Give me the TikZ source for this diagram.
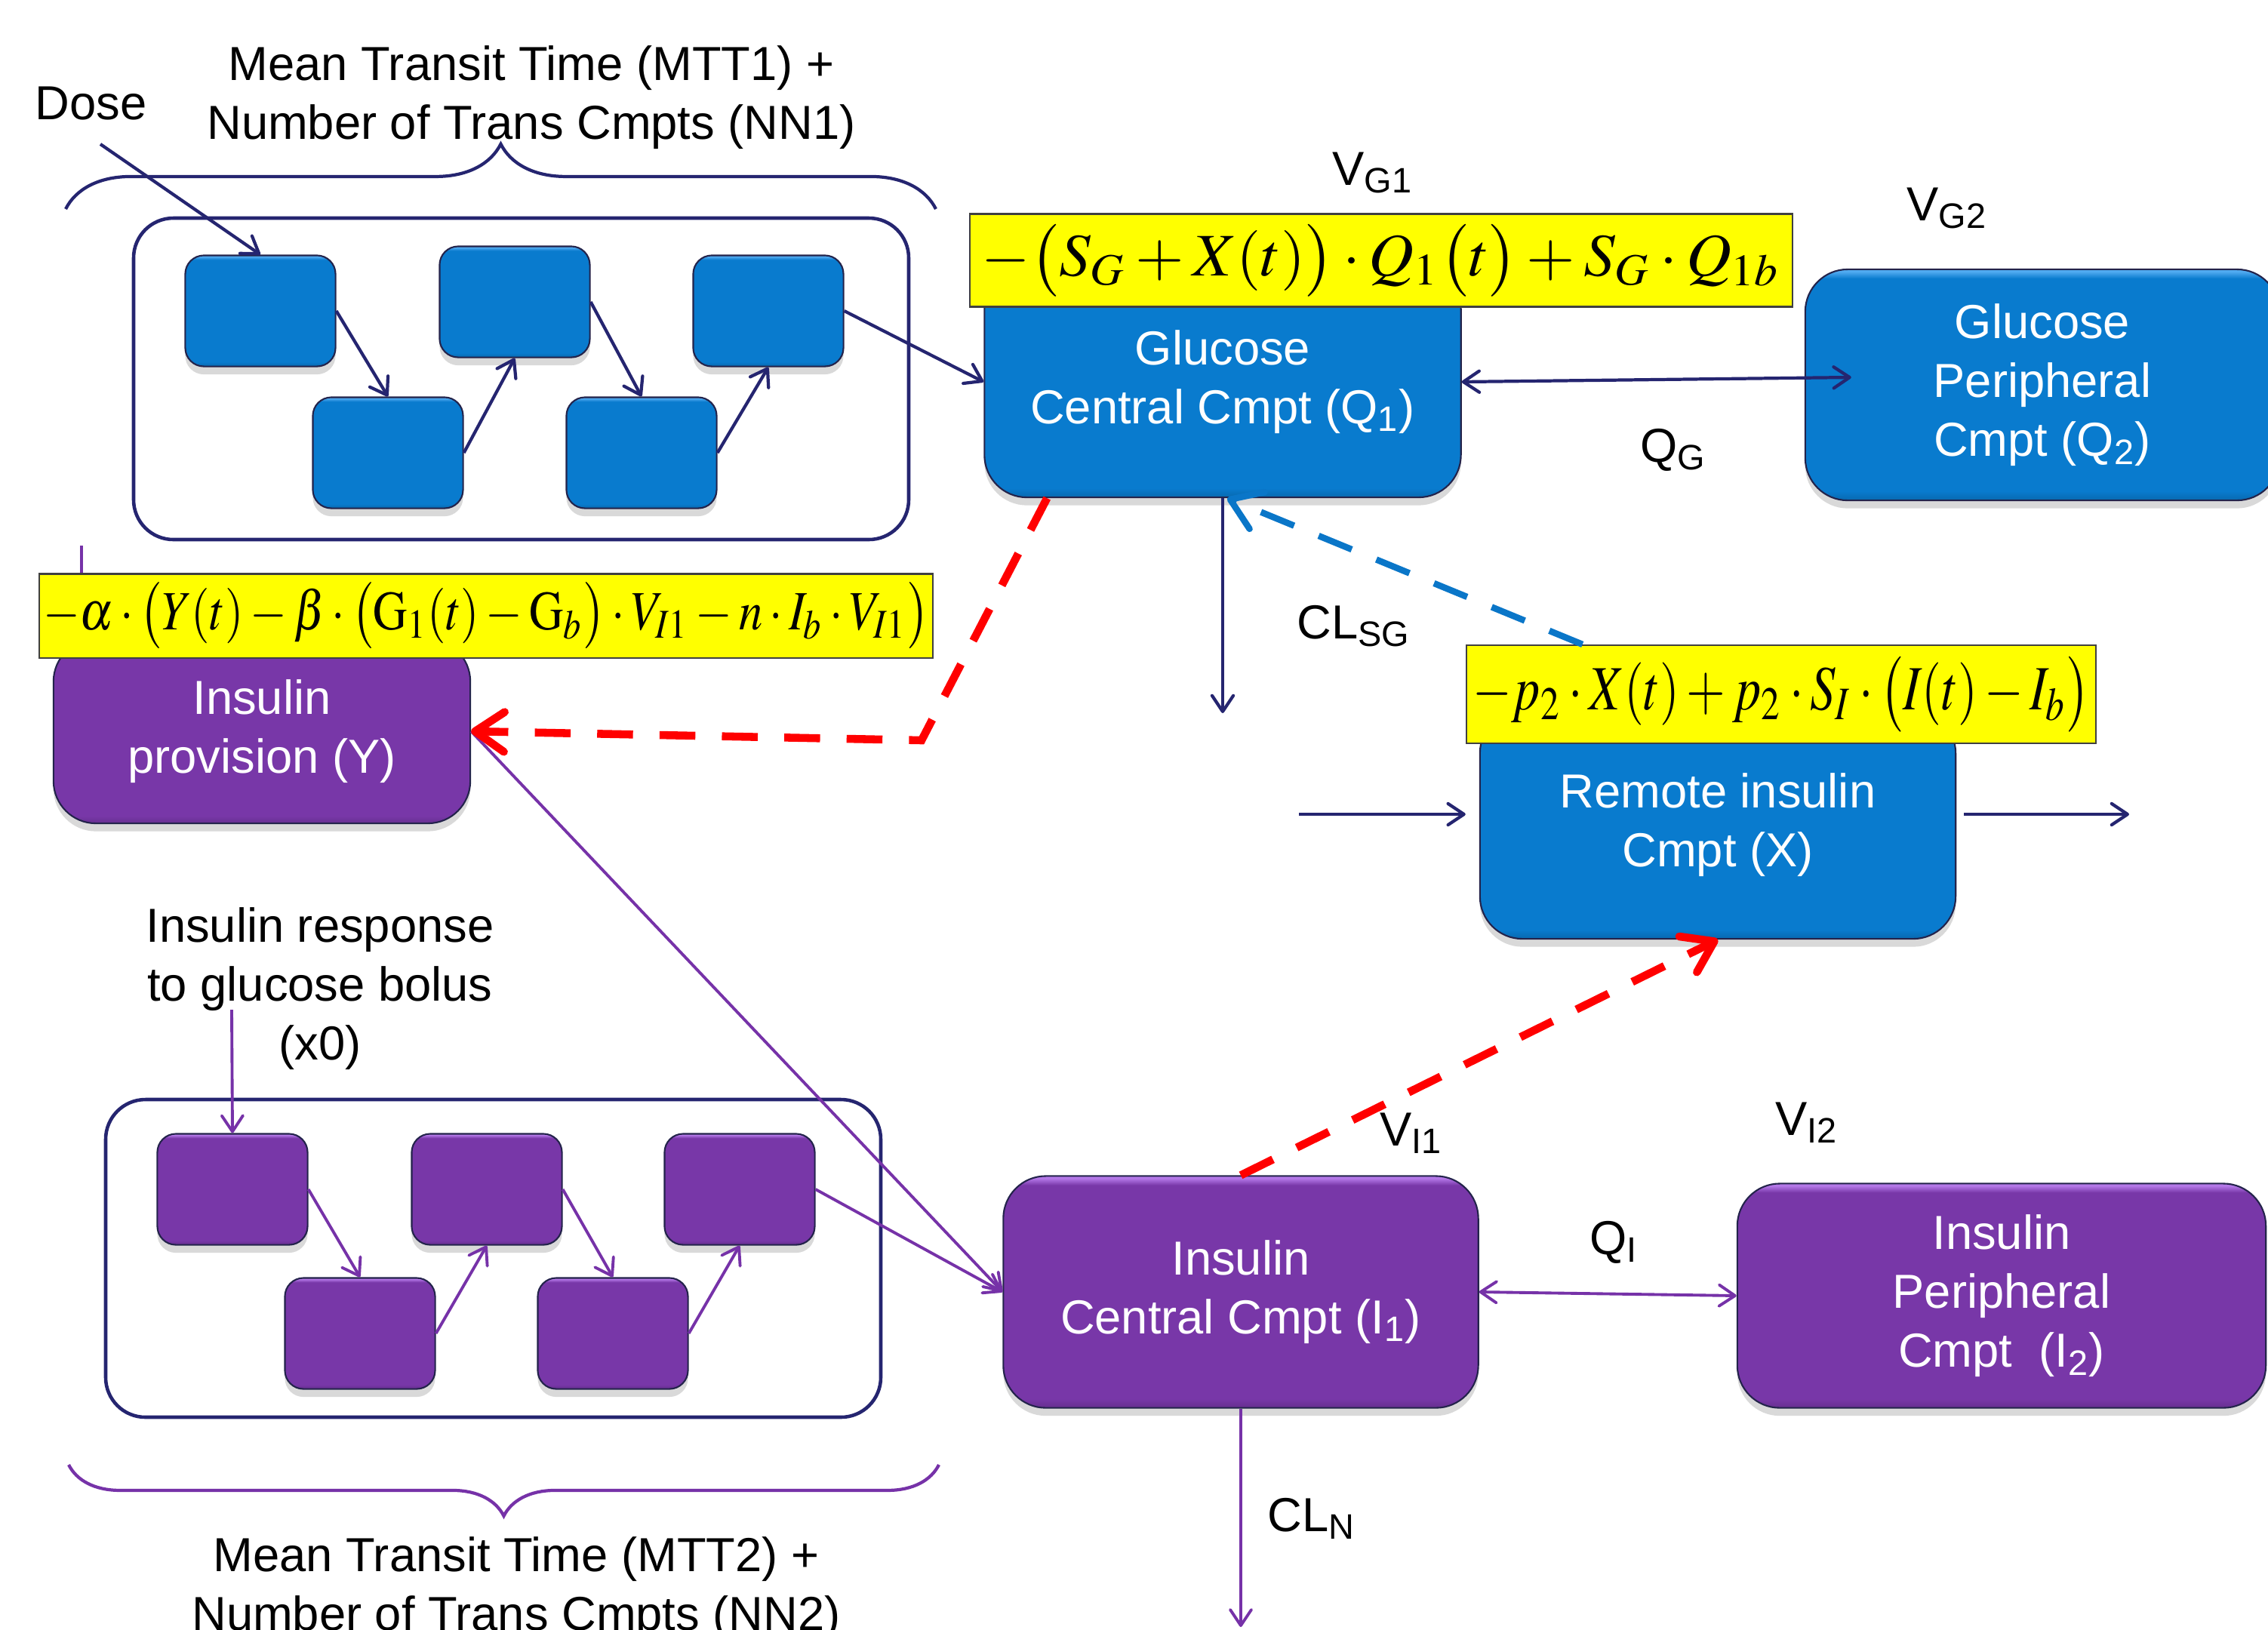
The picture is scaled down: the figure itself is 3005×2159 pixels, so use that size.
\documentclass[tikz,border=0pt]{standalone}
\usepackage{mathptmx}
\usepackage[no-math]{fontspec}
\usepackage{graphicx}
\usetikzlibrary{arrows.meta, positioning, calc, shadows, decorations.pathreplacing}
\newfontfamily\arialfont{Liberation Sans}

\definecolor{CmptBlue}{RGB}{9,123,206}
\definecolor{CmptBlueLight}{RGB}{80,170,240}
\definecolor{CmptPurple}{RGB}{120,55,168}
\definecolor{CmptPurpleLight}{RGB}{180,120,232}
\definecolor{EdgeDark}{RGB}{35,35,75}
\definecolor{NavyLine}{RGB}{37,37,112}
\definecolor{PurpleLine}{RGB}{118,50,168}
\definecolor{FeedRed}{RGB}{255,0,0}
\definecolor{FeedBlue}{RGB}{10,118,200}
\definecolor{EqYellow}{RGB}{255,255,0}
\colorlet{CmptBlueDark}{CmptBlue!85!black}
\colorlet{CmptPurpleDark}{CmptPurple!85!black}

\pgfdeclareverticalshading{bluegloss}{100bp}{color(0bp)=(CmptBlueDark); color(25bp)=(CmptBlueDark);
  color(27bp)=(CmptBlue); color(73bp)=(CmptBlue); color(74.5bp)=(CmptBlueLight); color(100bp)=(CmptBlueLight)}
\pgfdeclareverticalshading{purplegloss}{100bp}{color(0bp)=(CmptPurpleDark); color(25bp)=(CmptPurpleDark);
  color(27bp)=(CmptPurple); color(73bp)=(CmptPurple); color(74.5bp)=(CmptPurpleLight); color(100bp)=(CmptPurpleLight)}

\tikzset{
  tag/.style={font=\arialfont\fontsize{18}{22.2}\selectfont, inner sep=0pt},
  cmpt/.style={tag, align=center, text=white, rounded corners=16pt, draw=EdgeDark, line width=0.6pt,
    drop shadow={shadow xshift=0pt, shadow yshift=-3pt, opacity=0.3}},
  bluecmpt/.style={cmpt, shading=bluegloss},
  purplecmpt/.style={cmpt, shading=purplegloss},
  transit/.style={rounded corners=7pt, minimum width=1.99cm, minimum height=1.47cm},
  eqbox/.style={fill=EqYellow, draw=black!75, line width=0.6pt, inner sep=0pt},
  groupbox/.style={line width=1.3pt, rounded corners=15pt},
  navyarrow/.style={draw=NavyLine, line width=1.2pt, -{Straight Barb[length=6pt,width=8pt,round]}},
  navytwo/.style={draw=NavyLine, line width=1.2pt,
    {Straight Barb[length=6pt,width=8pt,round]}-{Straight Barb[length=6pt,width=8pt,round]}},
  purplearrow/.style={draw=PurpleLine, line width=1.1pt, -{Straight Barb[length=6pt,width=8pt,round]}},
  purpletwo/.style={draw=PurpleLine, line width=1.1pt,
    {Straight Barb[length=6pt,width=8pt,round]}-{Straight Barb[length=6pt,width=8pt,round]}},
  feedback/.style={line width=3pt, dash pattern=on 13.5pt off 10pt,
    -{Straight Barb[length=11pt,width=15pt,round]}}
}

\begin{document}
\begin{tikzpicture}[x=0.01cm, y=-0.01cm]
  \useasboundingbox (0,0) rectangle (3005,2159);
  \clip (0,0) rectangle (3005,2159);

  % Glucose absorption transit chain
  \node[tag, anchor=base west] (dose) at (46,158) {Dose};
  \node[tag, align=center] (mtt1) at (704,129) {Mean Transit Time (MTT1) +\\Number of Trans Cmpts (NN1)};
  \draw[NavyLine, line width=1.2pt, decorate, decoration={brace, amplitude=24.5pt}] (87,277) -- (1240,277);
  \draw[groupbox, draw=NavyLine] (177,289) rectangle (1204,715);
  \foreach \n/\x/\y in {1/345/412,2/514/600,3/682/400,4/850/600,5/1018/412}{
    \node[bluecmpt, transit] (g\n) at (\x,\y) {};}
  \foreach \a/\b/\s in {1/2/north,2/3/south,3/4/north,4/5/south}
    \draw[navyarrow] (g\a.east) -- (g\b.\s);
  \coordinate (dosein) at (133,191);
  \draw[navyarrow] (dosein) -- (g1.north);

  % Insulin secretion transit chain
  \node[tag, align=center] (bolus) at (424,1310) {Insulin response\\to glucose bolus\\(x0)};
  \draw[groupbox, draw=NavyLine] (140,1457) rectangle (1167,1878);
  \foreach \n/\x/\y in {1/308/1576,2/477/1767,3/645/1576,4/812/1767,5/980/1576}{
    \node[purplecmpt, transit] (i\n) at (\x,\y) {};}
  \foreach \a/\b/\s in {1/2/north,2/3/south,3/4/north,4/5/south}
    \draw[purplearrow] (i\a.east) -- (i\b.\s);
  \coordinate (bolusin) at (307,1338);
  \draw[purplearrow] (bolusin) -- (i1.north);
  \draw[PurpleLine, line width=1.2pt, decorate, decoration={brace, amplitude=19.3pt}] (1244,1941) -- (91,1941);
  \node[tag, align=center] (mtt2) at (684,2105) {Mean Transit Time (MTT2) +\\Number of Trans Cmpts (NN2)};

  % Main compartments
  \node[bluecmpt, minimum width=6.31cm, minimum height=3.06cm] (gcen) at (1620,506)
    {Glucose\\Central Cmpt (Q\textsubscript{1})};
  \node[bluecmpt, minimum width=6.28cm, minimum height=3.06cm] (gper) at (2706,510)
    {Glucose\\Peripheral\\Cmpt (Q\textsubscript{2})};
  \node[bluecmpt, minimum width=6.30cm, minimum height=3.02cm] (rem) at (2276,1093)
    {Remote insulin\\Cmpt (X)};
  \node[purplecmpt, minimum width=5.52cm, minimum height=2.44cm] (iprov) at (347,969)
    {Insulin\\provision (Y)};
  \node[purplecmpt, minimum width=6.29cm, minimum height=3.07cm] (icen) at (1644,1712)
    {Insulin\\Central Cmpt (I\textsubscript{1})};
  \node[purplecmpt, minimum width=7.00cm, minimum height=2.97cm] (iper) at (2652,1717)
    {Insulin\\Peripheral\\Cmpt~~(I\textsubscript{2})};

  % Rate equations
  \node[eqbox, minimum width=10.89cm, minimum height=1.23cm] (eqg) at (1830,345)
    {\resizebox*{10.58cm}{0.96cm}{$-\bigl(S_G+X(t)\bigr)\cdot Q_1\bigl(t\bigr)+S_G\cdot Q_{1b}$}};
  \node[eqbox, minimum width=11.84cm, minimum height=1.11cm] (eqy) at (644,816)
    {\resizebox*{11.73cm}{0.88cm}{$-\alpha\cdot\bigl(Y(t)-\beta\cdot\bigl(\mathrm{G}_1(t)-\mathrm{G}_b\bigr)\cdot V_{I1}-n\cdot I_b\cdot V_{I1}\bigr)$}};
  \node[eqbox, minimum width=8.34cm, minimum height=1.30cm] (eqx) at (2360,920)
    {\resizebox*{8.17cm}{1.00cm}{$-p_2\cdot X(t)+p_2\cdot S_I\cdot\bigl(I(t)-I_b\bigr)$}};

  % Volumes and flows
  \node[tag, anchor=base west] (vg1) at (1765,245) {V\textsubscript{G1}};
  \node[tag, anchor=base west] (vg2) at (2526,292) {V\textsubscript{G2}};
  \node[tag, anchor=base west] (qg) at (2173,612) {Q\textsubscript{G}};
  \node[tag, anchor=base west] (clsg) at (1718,846) {CL\textsubscript{SG}};
  \node[tag, anchor=base west] (vi1) at (1828,1518) {V\textsubscript{I1}};
  \node[tag, anchor=base west] (vi2) at (2352,1504) {V\textsubscript{I2}};
  \node[tag, anchor=base west] (qi) at (2106,1662) {Q\textsubscript{I}};
  \node[tag, anchor=base west] (cln) at (1679,2029) {CL\textsubscript{N}};

  % Glucose side connectors
  \draw[navyarrow] (g5.east) -- (gcen.west);
  \draw[navytwo] (gcen.east) -- ($(gper.west)+(62,-10)$);
  \coordinate (clsgout) at (1620,945);
  \draw[navyarrow] (gcen.south) -- (clsgout);
  \coordinate (xin) at (1721,1079);
  \coordinate (xout) at (2821,1079);
  \draw[navyarrow] (xin) -- ($(rem.west)+(-18,-14)$);
  \draw[navyarrow] ($(rem.east)+(10,-14)$) -- (xout);

  % Insulin side connectors
  \coordinate (stub) at (108,723);
  \draw[PurpleLine, line width=1.1pt] (stub) -- (stub |- eqy.north);
  \draw[purplearrow] (iprov.east) -- (icen.west);
  \draw[purplearrow] (i5.east) -- (icen.west);
  \draw[purpletwo] (icen.east) -- (iper.west);
  \coordinate (clnout) at (1644,2156);
  \draw[purplearrow] (icen.south) -- (clnout);

  % Feedback actions
  \coordinate (redbend) at (1221,981);
  \draw[feedback, FeedRed] ($(gcen.south west)+(84,0)$) -- (redbend) -- (iprov.east);
  \draw[feedback, FeedRed] (icen.north) -- (rem.south);
  \draw[feedback, FeedBlue, line width=2.4pt] ($(eqx.north west)+(155,0)$) -- ($(gcen.south)+(6,0)$);
\end{tikzpicture}
\end{document}
